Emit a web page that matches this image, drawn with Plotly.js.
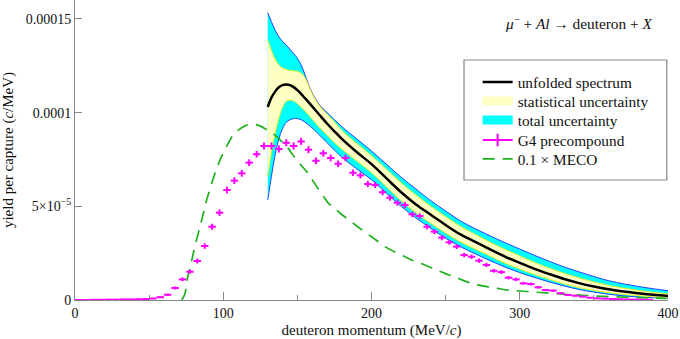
<!DOCTYPE html>
<html>
<head>
<meta charset="utf-8">
<script src="https://cdn.plot.ly/plotly-3.0.1.min.js"></script>
<style>html,body{margin:0;padding:0;background:#fff;}#chart{width:680px;height:339px;}</style>
</head>
<body>
<div id="chart"></div>
<script>
// values in units of 1e-5 (yield per capture, c/MeV)
const UNIT = 1e-5;

const bandX = [130,132.5,135,137.5,140,142.5,145,147.5,150,152.5,155,157.5,160,165,170,175,180,190,200,210,220,230,240,250,260,270,280,290,300,310,320,330,340,350,360,370,380,390,400];
const spectrum = [10.3,10.8,11.12,11.35,11.47,11.5,11.47,11.36,11.2,11.0,10.78,10.56,10.33,9.87,9.42,9.0,8.6,7.9,7.25,6.5,5.75,5.1,4.55,4.0,3.5,3.1,2.7,2.32,1.98,1.66,1.38,1.12,0.9,0.72,0.57,0.45,0.36,0.28,0.22];
const totalUpper = [15.33,14.85,14.4,14.05,13.8,13.6,13.38,13.15,12.9,12.55,12.05,11.5,11.05,10.4,10.0,9.62,9.25,8.6,7.95,7.25,6.55,5.92,5.3,4.75,4.22,3.8,3.42,3.06,2.72,2.38,2.06,1.76,1.5,1.25,1.03,0.86,0.72,0.6,0.5];
const totalLower = [5.34,6.6,7.75,8.6,9.15,9.48,9.62,9.68,9.68,9.62,9.5,9.35,9.18,8.8,8.4,8.0,7.62,7.0,6.42,5.7,5.0,4.38,3.82,3.3,2.85,2.46,2.1,1.76,1.46,1.2,0.96,0.75,0.56,0.42,0.31,0.22,0.16,0.12,0.09];
const statUpper = [13.87,13.3,12.85,12.55,12.38,12.3,12.25,12.22,12.2,12.1,11.88,11.45,11.0,10.35,9.92,9.5,9.05,8.35,7.7,6.98,6.25,5.6,5.0,4.45,3.93,3.5,3.08,2.7,2.35,2.0,1.7,1.42,1.18,0.96,0.78,0.63,0.51,0.41,0.33];
const statLower = [6.6,7.9,8.9,9.7,10.3,10.6,10.68,10.62,10.48,10.3,10.1,9.88,9.65,9.2,8.8,8.4,8.05,7.42,6.8,6.05,5.3,4.65,4.1,3.57,3.1,2.72,2.34,1.97,1.65,1.36,1.1,0.86,0.66,0.51,0.39,0.3,0.23,0.17,0.12];

const g4X = [2.5,7.5,12.5,17.5,22.5,27.5,32.5,37.5,42.5,47.5,52.5,57.5,62.5,67.5,72.5,77.5,82.5,87.5,92.5,97.5,102.5,107.5,112.5,117.5,122.5,127.5,132.5,137.5,142.5,147.5,152.5,157.5,162.5,167.5,172.5,177.5,182.5,187.5,192.5,197.5,202.5,207.5,212.5,217.5,222.5,227.5,232.5,237.5,242.5,247.5,252.5,257.5,262.5,267.5,272.5,277.5,282.5,287.5,292.5,297.5,302.5,307.5,312.5,317.5,322.5,327.5,332.5,337.5,342.5,347.5,352.5,357.5,362.5,367.5,372.5,377.5,382.5,387.5];
const g4Y = [0.0,0.0,0.01,0.01,0.02,0.02,0.03,0.03,0.04,0.05,0.08,0.15,0.28,0.64,1.10,1.51,2.08,2.88,3.91,4.66,5.87,6.37,6.76,7.33,7.78,8.22,8.22,8.06,8.39,8.22,8.46,8.02,7.43,7.83,7.58,7.27,7.58,6.79,6.65,6.19,6.14,5.75,5.46,5.19,5.07,4.57,4.48,3.91,3.65,3.33,3.08,2.85,2.40,2.31,2.10,1.87,1.56,1.49,1.19,1.10,0.89,0.85,0.68,0.53,0.50,0.36,0.27,0.23,0.18,0.12,0.09,0.07,0.05,0.04,0.03,0.02,0.02,0.01];
const g4Err = [0.0,0.0,0.01,0.01,0.01,0.01,0.02,0.02,0.02,0.02,0.03,0.04,0.06,0.08,0.1,0.11,0.13,0.15,0.16,0.17,0.18,0.18,0.18,0.18,0.18,0.19,0.19,0.19,0.19,0.19,0.19,0.19,0.18,0.18,0.18,0.18,0.18,0.17,0.17,0.17,0.17,0.16,0.16,0.16,0.16,0.15,0.15,0.14,0.14,0.14,0.13,0.13,0.12,0.12,0.12,0.11,0.1,0.1,0.09,0.09,0.08,0.08,0.07,0.06,0.06,0.05,0.05,0.04,0.04,0.03,0.03,0.02,0.02,0.02,0.01,0.01,0.01,0.01];

const mecoX = [72,74,76,78.7,81,84.3,86.6,88.8,91,93.3,96,98,101,104,107,110,113.5,116,119,122,125,128,131,134,137,140,143,146,149.5,153,156.3,160,163,167,171,175,178.8,184.4,190,196.7,203,209,216,222.6,229,236,243,249.6,257,264,271,278,285,292,300,307,314,321.5,330,338,345,352,360,367.6,375,383.4,391,399];
const mecoY = [0,0.3,1.2,2.1,2.9,3.91,4.63,5.34,5.9,6.5,7.1,7.5,8.0,8.45,8.85,9.05,9.25,9.34,9.38,9.36,9.28,9.15,9.0,8.85,8.65,8.4,8.18,7.85,7.47,7.15,6.85,6.42,6.05,5.6,5.16,4.9,4.63,4.3,3.95,3.56,3.2,2.85,2.55,2.31,2.07,1.87,1.63,1.42,1.2,0.98,0.83,0.71,0.62,0.53,0.48,0.44,0.40,0.36,0.31,0.27,0.24,0.21,0.18,0.16,0.14,0.12,0.10,0.09];

const xTickVals = [0,100,200,300,400];
const xTickText = ['0','100','200','300','400'];
const yTickVals = [0,5e-5,1e-4,1.5e-4];
const yTickText = ['0','5×10<sup>−5</sup>','0.0001','0.00015'];

const sc = a => a.map(v => v * UNIT);
const FONT = '"Liberation Serif", "DejaVu Serif", serif';
const MAG = '#ff00ff', GRN = '#1fb01f', CYAN = '#00ffff', YEL = '#ffffc4', BLUE = '#2040ff';

const traces = [
  {x: bandX, y: sc(totalLower), mode: 'lines', line: {color: BLUE, width: 1, shape: 'spline'}, showlegend: false, hoverinfo: 'skip'},
  {x: bandX, y: sc(totalUpper), mode: 'lines', fill: 'tonexty', fillcolor: CYAN, line: {color: BLUE, width: 1, shape: 'spline'}, showlegend: false, hoverinfo: 'skip'},
  {x: bandX, y: sc(statLower), mode: 'lines', line: {color: '#eeee20', width: 1, shape: 'spline'}, showlegend: false, hoverinfo: 'skip'},
  {x: bandX, y: sc(statUpper), mode: 'lines', fill: 'tonexty', fillcolor: YEL, line: {color: '#eeee20', width: 1, shape: 'spline'}, showlegend: false, hoverinfo: 'skip'},
  {x: bandX, y: sc(spectrum), mode: 'lines', name: 'unfolded spectrum', line: {color: '#000', width: 2.5, shape: 'spline'}, legend: 'legend'},
  {x: mecoX, y: sc(mecoY), mode: 'lines', name: '0.1 × MECO', line: {color: GRN, width: 1.7, dash: '12px,8px', shape: 'spline'}, legend: 'legend5'},
  {x: g4X, y: sc(g4Y), mode: 'markers', name: 'G4 precompound', showlegend: false,
   marker: {size: 1, color: MAG, opacity: 0},
   error_x: {type: 'constant', value: 2.5, thickness: 2, width: 0, color: MAG},
   error_y: {type: 'data', array: sc(g4Err), thickness: 2, width: 0, color: MAG}},
  // legend-only swatches
  {x: [null], y: [null], mode: 'lines', name: 'statistical uncertainty', line: {color: YEL, width: 9}, legend: 'legend2'},
  {x: [null], y: [null], mode: 'lines', name: 'total uncertainty', line: {color: CYAN, width: 9}, legend: 'legend3'},
  {x: [null], y: [null], mode: 'lines+markers', name: 'G4 precompound', line: {color: MAG, width: 2},
   marker: {symbol: 'line-ns-open', size: 9, color: MAG, line: {color: MAG, width: 2}}, legend: 'legend4'}
];

const legX = 0.679;
const legBase = {x: legX, xanchor: 'left', yanchor: 'middle', bgcolor: 'rgba(0,0,0,0)', borderwidth: 0, font: {family: FONT, size: 15.3, color: '#111'}};
const layout = {
  width: 680, height: 339,
  margin: {l: 75, r: 12, t: 0, b: 39},
  paper_bgcolor: '#fff', plot_bgcolor: '#fff',
  font: {family: FONT, size: 14, color: '#111'},
  xaxis: {range: [0, 400], tickvals: xTickVals, ticktext: xTickText, ticks: 'inside', ticklen: 8, tickcolor: '#888',
          showline: true, linecolor: '#888', linewidth: 1, showgrid: false, zeroline: false,
          minor: {dtick: 50, tick0: 0, ticks: 'inside', ticklen: 5, tickcolor: '#888', showgrid: false},
          tickfont: {family: FONT, size: 14},
          title: {text: 'deuteron momentum (MeV/<i>c</i>)', font: {family: FONT, size: 15}, standoff: 4}},
  yaxis: {range: [0, 1.601e-4], tickvals: yTickVals, ticktext: yTickText, ticks: 'inside', ticklen: 7, tickcolor: '#888',
          showline: true, linecolor: '#888', linewidth: 1, showgrid: false, zeroline: false,
          tickfont: {family: FONT, size: 14},
          title: {text: 'yield per capture (<i>c</i>/MeV)', font: {family: FONT, size: 15}, standoff: 8}},
  legend: Object.assign({}, legBase, {y: 0.7267}),
  legend2: Object.assign({}, legBase, {y: 0.6633}),
  legend3: Object.assign({}, legBase, {y: 0.6}),
  legend4: Object.assign({}, legBase, {y: 0.5333}),
  legend5: Object.assign({}, legBase, {y: 0.47}),
  shapes: [{type: 'rect', xref: 'paper', yref: 'paper', x0: 0.656, x1: 0.998, y0: 0.4, y1: 0.8,
            line: {color: '#888', width: 1.2}, fillcolor: '#fff', layer: 'below'}],
  annotations: [{xref: 'paper', yref: 'paper', x: 0.977, y: 0.925, xanchor: 'right', yanchor: 'middle', showarrow: false,
                 text: '<i>μ</i><sup>−</sup> + <i>Al</i> → deuteron + <i>X</i>', font: {family: FONT, size: 15.3, color: '#111'}}]
};

Plotly.newPlot('chart', traces, layout, {displayModeBar: false, staticPlot: true});
</script>
</body>
</html>
